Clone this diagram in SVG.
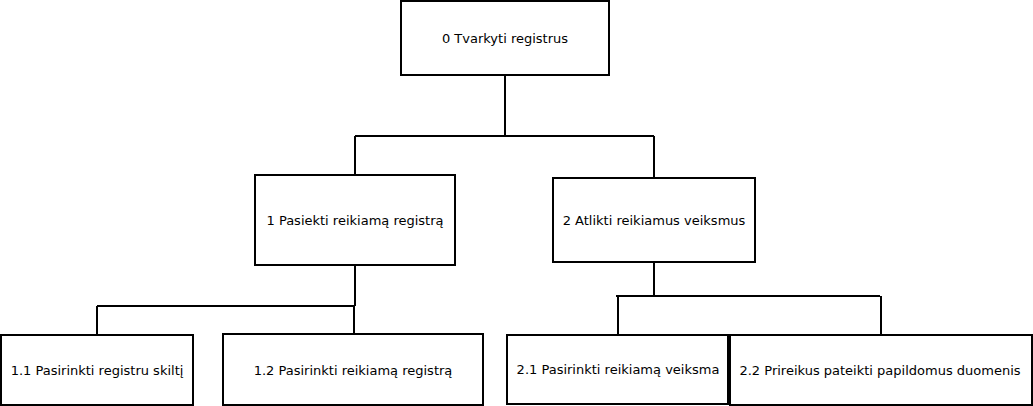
<svg xmlns="http://www.w3.org/2000/svg" width="1033" height="406" viewBox="0 0 1033 406">
<style>
rect{fill:#fff;stroke:#000;stroke-width:2}
.c path{fill:none;stroke:#000;stroke-width:2}
text{font-family:"DejaVu Sans",sans-serif;font-size:13px;text-anchor:middle;fill:#000}
</style>
<rect x="0" y="0" width="1033" height="406" style="stroke:none"/>
<g class="c" id="connectors">
<path d="M505,75 V136 M355,136 H654 M355,136 V175 M654,136 V178"/>
<path d="M355,265 V306 M97,306 H355 M97,306 V335 M354,306 V334"/>
<path d="M654,262 V296 M616,296 H880 M618,296 V335 M881,296 V335"/>
</g>
<g id="n0"><rect x="401" y="1" width="208" height="74"/><text x="505" y="42.5">0 Tvarkyti registrus</text></g>
<g id="n1"><rect x="255" y="175" width="200" height="90"/><text x="355" y="224.5">1 Pasiekti reikiamą registrą</text></g>
<g id="n2"><rect x="553" y="178" width="202" height="84"/><text x="654" y="224.5">2 Atlikti reikiamus veiksmus</text></g>
<g id="n11"><rect x="1" y="335" width="192" height="70"/><text x="97" y="374.5">1.1 Pasirinkti registru skiltį</text></g>
<g id="n12"><rect x="223" y="334" width="260" height="71"/><text x="353" y="374.5">1.2 Pasirinkti reikiamą registrą</text></g>
<g id="n21"><rect x="507" y="335" width="221" height="69"/><text x="618" y="373.5">2.1 Pasirinkti reikiamą veiksma</text></g>
<g id="n22"><rect x="730" y="335" width="302" height="70"/><text x="880" y="374.5">2.2 Prireikus pateikti papildomus duomenis</text></g>
</svg>
